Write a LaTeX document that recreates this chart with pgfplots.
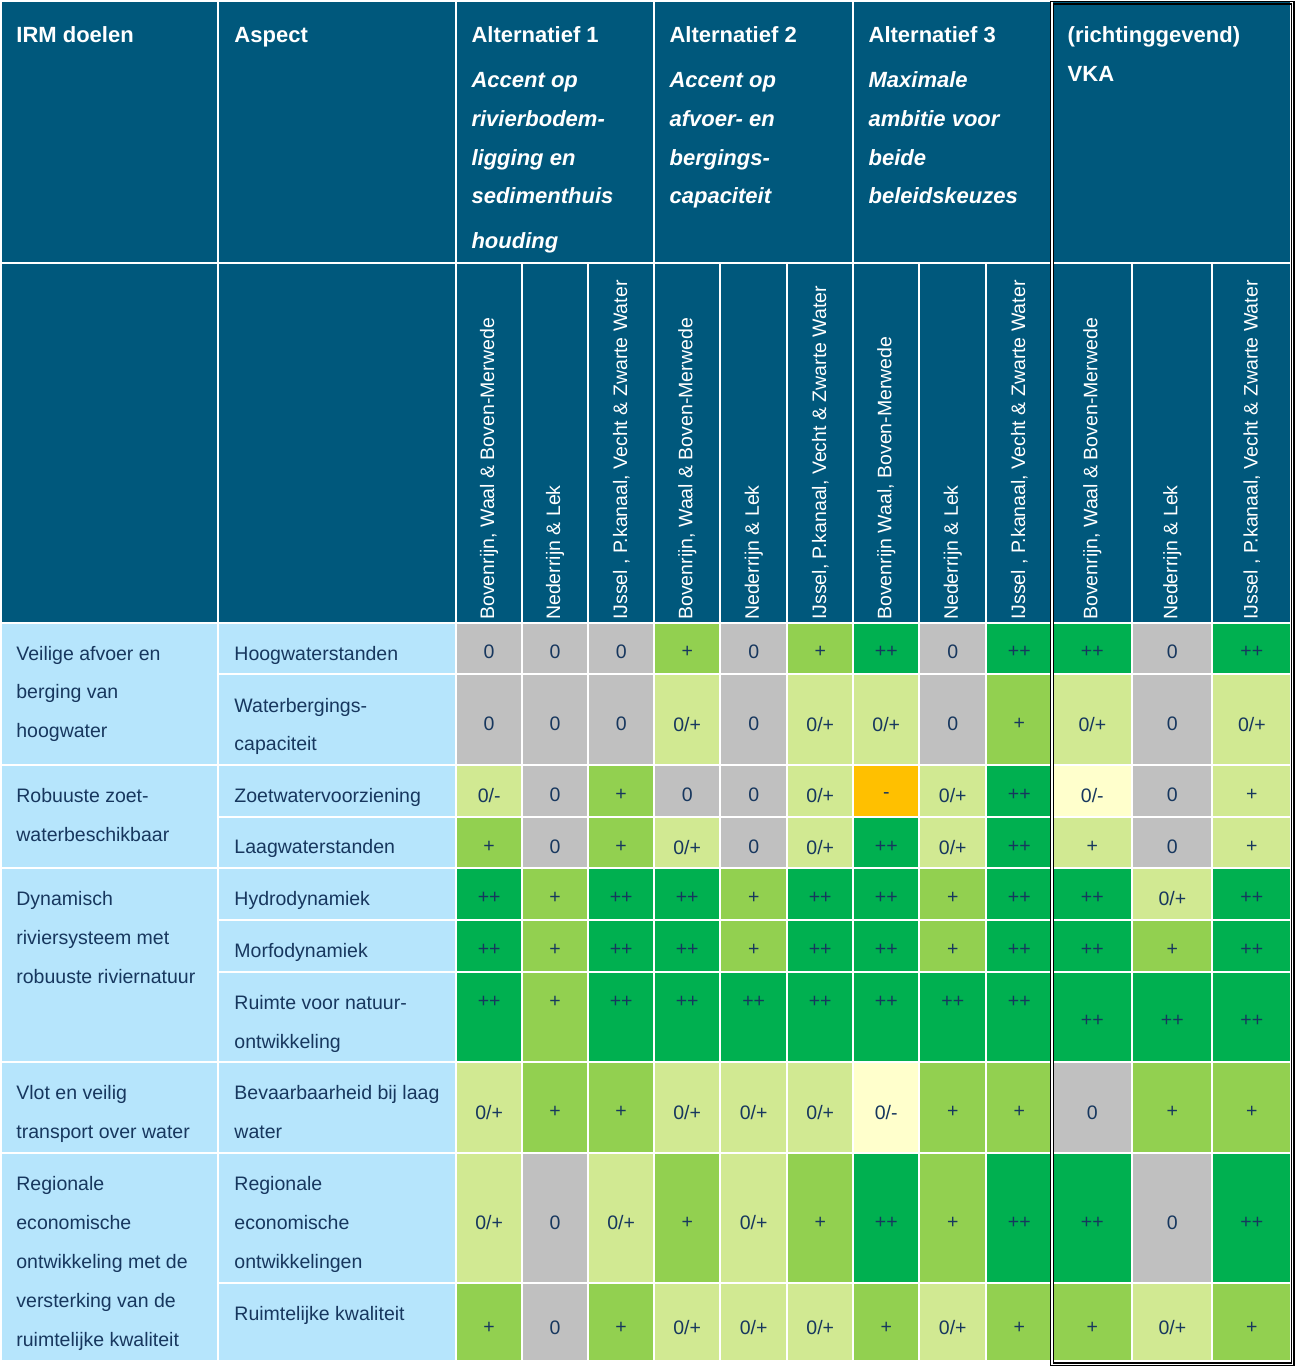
\documentclass[border=0pt]{standalone}
\usepackage{pgfplots}
\pgfplotsset{compat=1.18}
\usepackage{fontspec}
\setmainfont{Liberation Sans}
\definecolor{hdr}{RGB}{0,88,124}
\definecolor{lb}{RGB}{182,229,252}
\definecolor{cZ}{RGB}{192,192,192}
\definecolor{cP}{RGB}{209,233,146}
\definecolor{cG}{RGB}{146,208,80}
\definecolor{cD}{RGB}{0,176,80}
\definecolor{cO}{RGB}{255,192,0}
\definecolor{cY}{RGB}{255,255,204}
\definecolor{txt}{RGB}{23,55,94}
\newcommand\bodyfont{\fontsize{9.75}{12}\selectfont}
\newcommand\hdrfont{\fontsize{11}{13}\selectfont\bfseries}
\newcommand\hdrifont{\fontsize{11}{13}\selectfont\bfseries\itshape}
% cell fill: x1 x2 y1 y2 colour
\newcommand\CF[5]{\addplot[fill=#5,draw=white,line width=1pt] coordinates {(#1,#3) (#2,#3) (#2,#4) (#1,#4)} -- cycle;}
% body text line
\newcommand\CT[3]{\node[anchor=base west,inner sep=0,text=txt,font=\bodyfont] at (axis cs:#1,#2) {#3};}
\newcommand\CHB[3]{\node[anchor=base west,inner sep=0,text=white,font=\hdrfont] at (axis cs:#1,#2) {#3};}
\newcommand\CHI[3]{\node[anchor=base west,inner sep=0,text=white,font=\hdrifont] at (axis cs:#1,#2) {#3};}
\newcommand\CR[2]{\node[rotate=90,anchor=west,inner sep=0,text=white,font=\bodyfont] at (axis cs:#1,619) {#2};}
\newcommand\CS[1]{\addplot[only marks,mark=none,point meta=explicit symbolic,nodes near coords,
  nodes near coords style={anchor=center,inner sep=0,font=\bodyfont,text=txt}] coordinates {#1};}
\begin{document}
\begin{tikzpicture}
\begin{axis}[width=647pt,height=683pt,scale only axis,xmin=0,xmax=1294,ymin=0,ymax=1366,
  y dir=reverse,hide axis,clip=false]
% ---------- header row 1
\CF{0}{217}{0}{262}{hdr}
\CF{217}{455}{0}{262}{hdr}
\CF{455}{653}{0}{262}{hdr}
\CF{653}{852}{0}{262}{hdr}
\CF{852}{1051}{0}{262}{hdr}
\CF{1051}{1290}{0}{262}{hdr}
% ---------- header row 2
\CF{0}{217}{262}{622}{hdr}
\CF{217}{455}{262}{622}{hdr}
\CF{455}{521}{262}{622}{hdr}
\CF{521}{587}{262}{622}{hdr}
\CF{587}{653}{262}{622}{hdr}
\CF{653}{719}{262}{622}{hdr}
\CF{719}{786}{262}{622}{hdr}
\CF{786}{852}{262}{622}{hdr}
\CF{852}{918}{262}{622}{hdr}
\CF{918}{985}{262}{622}{hdr}
\CF{985}{1051}{262}{622}{hdr}
\CF{1051}{1131}{262}{622}{hdr}
\CF{1131}{1211}{262}{622}{hdr}
\CF{1211}{1290}{262}{622}{hdr}
% ---------- left columns
\CF{0}{217}{622}{764}{lb}
\CF{0}{217}{764}{867}{lb}
\CF{0}{217}{867}{1061}{lb}
\CF{0}{217}{1061}{1152}{lb}
\CF{0}{217}{1152}{1360}{lb}
\CF{217}{455}{622}{673}{lb}
\CF{217}{455}{673}{764}{lb}
\CF{217}{455}{764}{816}{lb}
\CF{217}{455}{816}{867}{lb}
\CF{217}{455}{867}{919}{lb}
\CF{217}{455}{919}{971}{lb}
\CF{217}{455}{971}{1061}{lb}
\CF{217}{455}{1061}{1152}{lb}
\CF{217}{455}{1152}{1282}{lb}
\CF{217}{455}{1282}{1360}{lb}
% ---------- row 1: Hoogwaterstanden
\CF{455}{521}{622}{673}{cZ}\CF{521}{587}{622}{673}{cZ}\CF{587}{653}{622}{673}{cZ}
\CF{653}{719}{622}{673}{cG}\CF{719}{786}{622}{673}{cZ}\CF{786}{852}{622}{673}{cG}
\CF{852}{918}{622}{673}{cD}\CF{918}{985}{622}{673}{cZ}\CF{985}{1051}{622}{673}{cD}
\CF{1051}{1131}{622}{673}{cD}\CF{1131}{1211}{622}{673}{cZ}\CF{1211}{1290}{622}{673}{cD}
% ---------- row 2: Waterbergingscapaciteit
\CF{455}{521}{673}{764}{cZ}\CF{521}{587}{673}{764}{cZ}\CF{587}{653}{673}{764}{cZ}
\CF{653}{719}{673}{764}{cP}\CF{719}{786}{673}{764}{cZ}\CF{786}{852}{673}{764}{cP}
\CF{852}{918}{673}{764}{cP}\CF{918}{985}{673}{764}{cZ}\CF{985}{1051}{673}{764}{cG}
\CF{1051}{1131}{673}{764}{cP}\CF{1131}{1211}{673}{764}{cZ}\CF{1211}{1290}{673}{764}{cP}
% ---------- row 3: Zoetwatervoorziening
\CF{455}{521}{764}{816}{cP}\CF{521}{587}{764}{816}{cZ}\CF{587}{653}{764}{816}{cG}
\CF{653}{719}{764}{816}{cZ}\CF{719}{786}{764}{816}{cZ}\CF{786}{852}{764}{816}{cP}
\CF{852}{918}{764}{816}{cO}\CF{918}{985}{764}{816}{cP}\CF{985}{1051}{764}{816}{cD}
\CF{1051}{1131}{764}{816}{cY}\CF{1131}{1211}{764}{816}{cZ}\CF{1211}{1290}{764}{816}{cP}
% ---------- row 4: Laagwaterstanden
\CF{455}{521}{816}{867}{cG}\CF{521}{587}{816}{867}{cZ}\CF{587}{653}{816}{867}{cG}
\CF{653}{719}{816}{867}{cP}\CF{719}{786}{816}{867}{cZ}\CF{786}{852}{816}{867}{cP}
\CF{852}{918}{816}{867}{cD}\CF{918}{985}{816}{867}{cP}\CF{985}{1051}{816}{867}{cD}
\CF{1051}{1131}{816}{867}{cP}\CF{1131}{1211}{816}{867}{cZ}\CF{1211}{1290}{816}{867}{cP}
% ---------- row 5: Hydrodynamiek
\CF{455}{521}{867}{919}{cD}\CF{521}{587}{867}{919}{cG}\CF{587}{653}{867}{919}{cD}
\CF{653}{719}{867}{919}{cD}\CF{719}{786}{867}{919}{cG}\CF{786}{852}{867}{919}{cD}
\CF{852}{918}{867}{919}{cD}\CF{918}{985}{867}{919}{cG}\CF{985}{1051}{867}{919}{cD}
\CF{1051}{1131}{867}{919}{cD}\CF{1131}{1211}{867}{919}{cP}\CF{1211}{1290}{867}{919}{cD}
% ---------- row 6: Morfodynamiek
\CF{455}{521}{919}{971}{cD}\CF{521}{587}{919}{971}{cG}\CF{587}{653}{919}{971}{cD}
\CF{653}{719}{919}{971}{cD}\CF{719}{786}{919}{971}{cG}\CF{786}{852}{919}{971}{cD}
\CF{852}{918}{919}{971}{cD}\CF{918}{985}{919}{971}{cG}\CF{985}{1051}{919}{971}{cD}
\CF{1051}{1131}{919}{971}{cD}\CF{1131}{1211}{919}{971}{cG}\CF{1211}{1290}{919}{971}{cD}
% ---------- row 7: Ruimte voor natuurontwikkeling
\CF{455}{521}{971}{1061}{cD}\CF{521}{587}{971}{1061}{cG}\CF{587}{653}{971}{1061}{cD}
\CF{653}{719}{971}{1061}{cD}\CF{719}{786}{971}{1061}{cD}\CF{786}{852}{971}{1061}{cD}
\CF{852}{918}{971}{1061}{cD}\CF{918}{985}{971}{1061}{cD}\CF{985}{1051}{971}{1061}{cD}
\CF{1051}{1131}{971}{1061}{cD}\CF{1131}{1211}{971}{1061}{cD}\CF{1211}{1290}{971}{1061}{cD}
% ---------- row 8: Bevaarbaarheid
\CF{455}{521}{1061}{1152}{cP}\CF{521}{587}{1061}{1152}{cG}\CF{587}{653}{1061}{1152}{cG}
\CF{653}{719}{1061}{1152}{cP}\CF{719}{786}{1061}{1152}{cP}\CF{786}{852}{1061}{1152}{cP}
\CF{852}{918}{1061}{1152}{cY}\CF{918}{985}{1061}{1152}{cG}\CF{985}{1051}{1061}{1152}{cG}
\CF{1051}{1131}{1061}{1152}{cZ}\CF{1131}{1211}{1061}{1152}{cG}\CF{1211}{1290}{1061}{1152}{cG}
% ---------- row 9: Regionale economische ontwikkelingen
\CF{455}{521}{1152}{1282}{cP}\CF{521}{587}{1152}{1282}{cZ}\CF{587}{653}{1152}{1282}{cP}
\CF{653}{719}{1152}{1282}{cG}\CF{719}{786}{1152}{1282}{cP}\CF{786}{852}{1152}{1282}{cG}
\CF{852}{918}{1152}{1282}{cD}\CF{918}{985}{1152}{1282}{cG}\CF{985}{1051}{1152}{1282}{cD}
\CF{1051}{1131}{1152}{1282}{cD}\CF{1131}{1211}{1152}{1282}{cZ}\CF{1211}{1290}{1152}{1282}{cD}
% ---------- row 10: Ruimtelijke kwaliteit
\CF{455}{521}{1282}{1360}{cG}\CF{521}{587}{1282}{1360}{cZ}\CF{587}{653}{1282}{1360}{cG}
\CF{653}{719}{1282}{1360}{cP}\CF{719}{786}{1282}{1360}{cP}\CF{786}{852}{1282}{1360}{cP}
\CF{852}{918}{1282}{1360}{cG}\CF{918}{985}{1282}{1360}{cP}\CF{985}{1051}{1282}{1360}{cG}
\CF{1051}{1131}{1282}{1360}{cG}\CF{1131}{1211}{1282}{1360}{cP}\CF{1211}{1290}{1282}{1360}{cG}
% ---------- cell symbols
\CS{(488,651)[0] (554,651)[0] (620,651)[0] (686,651)[+] (752.5,651)[0] (819,651)[+] (885,651)[++] (951.5,651)[0] (1018,651)[++] (1091,651)[++] (1171,651)[0] (1250.5,651)[++]}
\CS{(488,723)[0] (554,723)[0] (620,723)[0] (686,723)[0/+] (752.5,723)[0] (819,723)[0/+] (885,723)[0/+] (951.5,723)[0] (1018,723)[+] (1091,723)[0/+] (1171,723)[0] (1250.5,723)[0/+]}
\CS{(488,794)[0/-] (554,794)[0] (620,794)[+] (686,794)[0] (752.5,794)[0] (819,794)[0/+] (885,794)[-] (951.5,794)[0/+] (1018,794)[++] (1091,794)[0/-] (1171,794)[0] (1250.5,794)[+]}
\CS{(488,846)[+] (554,846)[0] (620,846)[+] (686,846)[0/+] (752.5,846)[0] (819,846)[0/+] (885,846)[++] (951.5,846)[0/+] (1018,846)[++] (1091,846)[+] (1171,846)[0] (1250.5,846)[+]}
\CS{(488,897)[++] (554,897)[+] (620,897)[++] (686,897)[++] (752.5,897)[+] (819,897)[++] (885,897)[++] (951.5,897)[+] (1018,897)[++] (1091,897)[++] (1171,897)[0/+] (1250.5,897)[++]}
\CS{(488,949)[++] (554,949)[+] (620,949)[++] (686,949)[++] (752.5,949)[+] (819,949)[++] (885,949)[++] (951.5,949)[+] (1018,949)[++] (1091,949)[++] (1171,949)[+] (1250.5,949)[++]}
\CS{(488,1001)[++] (554,1001)[+] (620,1001)[++] (686,1001)[++] (752.5,1001)[++] (819,1001)[++] (885,1001)[++] (951.5,1001)[++] (1018,1001)[++] (1091,1020)[++] (1171,1020)[++] (1250.5,1020)[++]}
\CS{(488,1111)[0/+] (554,1111)[+] (620,1111)[+] (686,1111)[0/+] (752.5,1111)[0/+] (819,1111)[0/+] (885,1111)[0/-] (951.5,1111)[+] (1018,1111)[+] (1091,1111)[0] (1171,1111)[+] (1250.5,1111)[+]}
\CS{(488,1221)[0/+] (554,1221)[0] (620,1221)[0/+] (686,1221)[+] (752.5,1221)[0/+] (819,1221)[+] (885,1221)[++] (951.5,1221)[+] (1018,1221)[++] (1091,1221)[++] (1171,1221)[0] (1250.5,1221)[++]}
\CS{(488,1326)[+] (554,1326)[0] (620,1326)[+] (686,1326)[0/+] (752.5,1326)[0/+] (819,1326)[0/+] (885,1326)[+] (951.5,1326)[0/+] (1018,1326)[+] (1091,1326)[+] (1171,1326)[0/+] (1250.5,1326)[+]}
% ---------- header texts
\CHB{15}{41.7}{IRM doelen}
\CHB{233}{41.7}{Aspect}
\CHB{470}{41.7}{Alternatief 1}
\CHI{470}{86.5}{Accent op}
\CHI{470}{125.3}{rivierbodem-}
\CHI{470}{164}{ligging en}
\CHI{470}{202.5}{sedimenthuis}
\CHI{470}{247.5}{houding}
\CHB{668}{41.7}{Alternatief 2}
\CHI{668}{86.5}{Accent op}
\CHI{668}{125.3}{afvoer- en}
\CHI{668}{164}{bergings-}
\CHI{668}{202.5}{capaciteit}
\CHB{867}{41.7}{Alternatief 3}
\CHI{867}{86.5}{Maximale}
\CHI{867}{125.3}{ambitie voor}
\CHI{867}{164}{beide}
\CHI{867}{202.5}{beleidskeuzes}
\CHB{1066}{41.7}{(richtinggevend)}
\CHB{1066}{80.5}{VKA}
% ---------- rotated sub headers
\CR{488}{Bovenrijn, Waal \& Boven-Merwede}
\CR{554}{Nederrijn \& Lek}
\CR{620}{IJssel , P.kanaal, Vecht \& Zwarte Water}
\CR{686}{Bovenrijn, Waal \& Boven-Merwede}
\CR{752.5}{Nederrijn \& Lek}
\CR{819}{IJssel, P.kanaal, Vecht \& Zwarte Water}
\CR{885}{Bovenrijn Waal, Boven-Merwede}
\CR{951.5}{Nederrijn \& Lek}
\CR{1018}{IJssel , P.kanaal, Vecht \& Zwarte Water}
\CR{1091}{Bovenrijn, Waal \& Boven-Merwede}
\CR{1171}{Nederrijn \& Lek}
\CR{1250.5}{IJssel , P.kanaal, Vecht \& Zwarte Water}
% ---------- IRM doelen column
\CT{15}{659}{Veilige afvoer en}
\CT{15}{697.5}{berging van}
\CT{15}{736.5}{hoogwater}
\CT{15}{801}{Robuuste zoet-}
\CT{15}{840}{waterbeschikbaar}
\CT{15}{904}{Dynamisch}
\CT{15}{943}{riviersysteem met}
\CT{15}{982}{robuuste riviernatuur}
\CT{15}{1098}{Vlot en veilig}
\CT{15}{1137}{transport over water}
\CT{15}{1189.3}{Regionale}
\CT{15}{1228.3}{economische}
\CT{15}{1267.3}{ontwikkeling met de}
\CT{15}{1306.5}{versterking van de}
\CT{15}{1345.5}{ruimtelijke kwaliteit}
% ---------- Aspect column
\CT{233}{659}{Hoogwaterstanden}
\CT{233}{711.5}{Waterbergings-}
\CT{233}{749.5}{capaciteit}
\CT{233}{801}{Zoetwatervoorziening}
\CT{233}{852.5}{Laagwaterstanden}
\CT{233}{904}{Hydrodynamiek}
\CT{233}{956}{Morfodynamiek}
\CT{233}{1008}{Ruimte voor natuur-}
\CT{233}{1047}{ontwikkeling}
\CT{233}{1098}{Bevaarbaarheid bij laag}
\CT{233}{1137}{water}
\CT{233}{1189.3}{Regionale}
\CT{233}{1228.3}{economische}
\CT{233}{1267.3}{ontwikkelingen}
\CT{233}{1319.3}{Ruimtelijke kwaliteit}
% ---------- VKA double frame
\draw[black,line width=0.6pt] (axis cs:1049.5,0.6) rectangle (axis cs:1292.6,1364);
\draw[black,line width=0.6pt] (axis cs:1052,3) rectangle (axis cs:1290,1361.5);
\end{axis}
\end{tikzpicture}
\end{document}
